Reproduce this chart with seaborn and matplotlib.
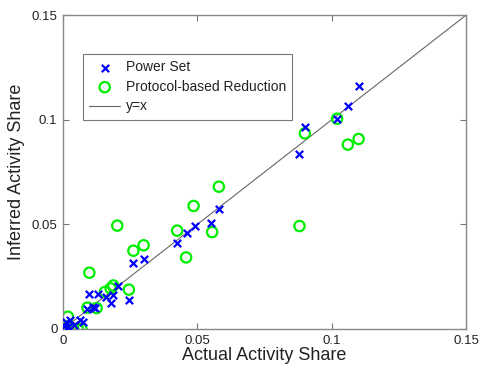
import matplotlib
matplotlib.use("Agg")
import matplotlib.pyplot as plt
import seaborn as sns
import pandas as pd

# Power Set (blue x)
ps_actual = [0.110, 0.106, 0.102, 0.090, 0.088, 0.058, 0.055, 0.049, 0.046, 0.0425,
             0.030, 0.026, 0.0245, 0.0205, 0.0187, 0.0177, 0.016, 0.0129, 0.0098, 0.0091,
             0.0119, 0.0113, 0.0073, 0.0063, 0.0026, 0.0011, 0.0003, 0.002, 0.004]
ps_inferred = [0.116, 0.1065, 0.1005, 0.0967, 0.0836, 0.0572, 0.0505, 0.0491, 0.0457, 0.0411,
               0.0333, 0.0314, 0.0140, 0.0205, 0.0164, 0.0123, 0.0154, 0.0169, 0.0169, 0.0097,
               0.0099, 0.0107, 0.0033, 0.0045, 0.0043, 0.0035, 0.0015, 0.001, 0.002]

# Protocol-based Reduction (green circles)
pr_actual = [0.110, 0.106, 0.102, 0.090, 0.088, 0.058, 0.0555, 0.0486, 0.0458, 0.0425,
             0.030, 0.0262, 0.0245, 0.0202, 0.0187, 0.0177, 0.0156, 0.0125, 0.0098, 0.0091,
             0.0018, 0.0069, 0.0005, 0.002, 0.0038, 0.0055, 0.001, 0.003]
pr_inferred = [0.0908, 0.0881, 0.1005, 0.0935, 0.0492, 0.0680, 0.0463, 0.0588, 0.0342, 0.0470,
               0.0400, 0.0374, 0.0188, 0.0494, 0.0208, 0.0194, 0.0177, 0.0100, 0.0269, 0.0102,
               0.0059, 0.0000, 0.0000, 0.0000, 0.0000, 0.0000, 0.0010, 0.0005]

ref_x = [0.0, 0.15]
ref_y = [0.0, 0.15]

ticks = [0, 0.05, 0.10, 0.15]
tick_labels = ["0", "0.05", "0.1", "0.15"]

sns.set_style("white")
plt.rcParams['font.family'] = ['Liberation Sans', 'DejaVu Sans']

fig = plt.figure(figsize=(4.81, 3.68), dpi=100)
ax = fig.add_axes([0.131, 0.106, 0.838, 0.853])

df_ps = pd.DataFrame({"x": ps_actual, "y": ps_inferred})
df_pr = pd.DataFrame({"x": pr_actual, "y": pr_inferred})

sns.scatterplot(data=df_ps, x="x", y="y", ax=ax, marker="x", color="#0000ff",
                s=28, linewidth=1.6, label="Power Set", zorder=3)
sns.scatterplot(data=df_pr, x="x", y="y", ax=ax, marker="o", facecolor="none",
                edgecolor="#00ee00", s=55, linewidth=1.6, label="Protocol-based Reduction", zorder=2)
ax.plot(ref_x, ref_y, color="#666666", linewidth=0.8, label="y=x", zorder=1)

ax.set_xlim(0, 0.15)
ax.set_ylim(0, 0.15)
ax.set_xticks(ticks)
ax.set_xticklabels(tick_labels)
ax.set_yticks(ticks)
ax.set_yticklabels(tick_labels)
ax.tick_params(direction="in", length=4, width=0.8, color="#777777", labelsize=9.5,
               labelcolor="#222222", top=True, right=True, bottom=True, left=True, pad=4)
for sp in ax.spines.values():
    sp.set_color("#888888")
    sp.set_linewidth(1.0)
    sp.set_visible(True)

ax.set_xlabel("Actual Activity Share", fontsize=13, labelpad=0, color="#222222")
ax.set_ylabel("Inferred Activity Share", fontsize=13, labelpad=5, color="#222222")

leg = ax.legend(loc="upper left", bbox_to_anchor=(0.05, 0.876), borderaxespad=0,
                fontsize=10, frameon=True, fancybox=False, edgecolor="#555555",
                handlelength=2.2, borderpad=0.45, labelspacing=0.4, handletextpad=0.4)
leg.get_frame().set_linewidth(0.8)
for t in leg.get_texts():
    t.set_color("#222222")

fig.savefig("out.png", dpi=100)
